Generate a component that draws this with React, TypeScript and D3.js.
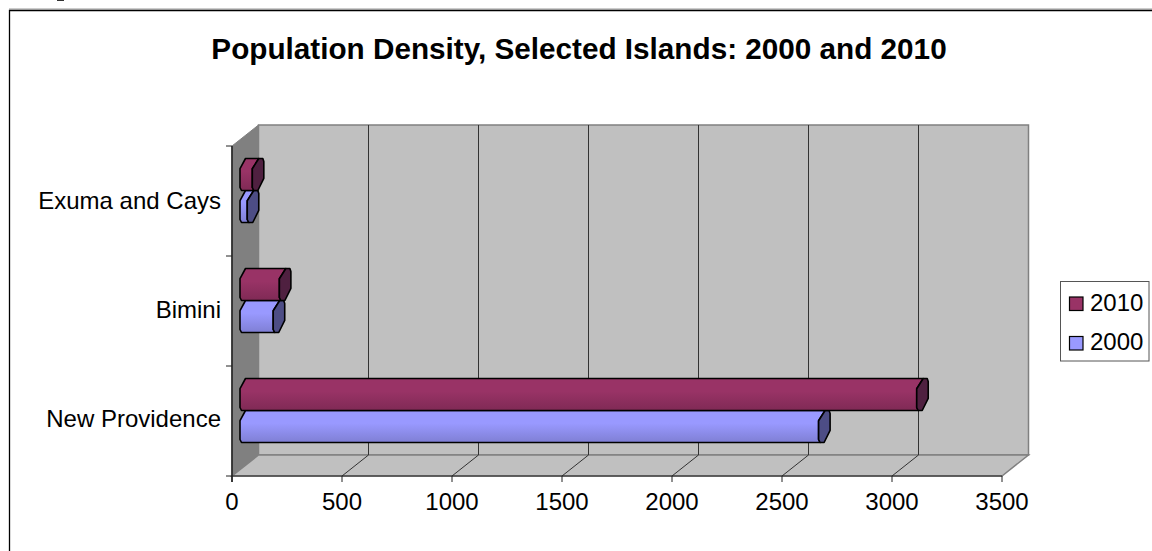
import React from "react";
import * as d3 from "d3";

const title = "Population Density, Selected Islands: 2000 and 2010";
const categories = ["New Providence", "Bimini", "Exuma and Cays"];
const values2000 = [2630, 151, 33];
const values2010 = [3076, 179, 56];
const ticks = [0, 500, 1000, 1500, 2000, 2500, 3000, 3500];
const seriesNames = ["2010", "2000"];

const W = 1152, H = 551;
const frontLeft = 232, frontRight = 1002, frontBottom = 476, frontTop = 146;
const dx = 26.5, dy = -21;
const FONT = "Liberation Sans, Arial, sans-serif";

const x = d3.scaleLinear().domain([0, 3500]).range([frontLeft, frontRight]);
const bandY = d3.scaleBand<number>().domain([0, 1, 2]).range([frontBottom, frontTop]);
const labelY = d3.scaleLinear().domain([0, 2]).range([427, 209]);
const COLORS: Record<string, { top: string; bottom: string; cap: string; stroke: string }> = {
  "2010": { top: "#993366", bottom: "#7f2a55", cap: "#4f2040", stroke: "#000" },
  "2000": { top: "#9999ff", bottom: "#7f7fd4", cap: "#4d4d85", stroke: "#000" },
};

function Bar({ v, y0, h, s }: { v: number; y0: number; h: number; s: string }) {
  const start = 8, depth = 11.5;
  const xl = x(0) + start;
  const xr = x(v) + start;
  const yt = y0, yb = y0 + h;
  const c = COLORS[s];
  const inset = h * 0.32;
  const hex = (cx: number) => [
    [cx + 6.5, yt], [cx + depth - 1, yt], [cx + depth, yt + 3], [cx + depth, yt + h * 0.62],
    [cx + 5.5, yb], [cx + 1.5, yb], [cx, yb - 3], [cx, yt + inset],
  ];
  const line = d3.line();
  const gid = `g${s}`;
  const body = `M${xl},${yt + inset} L${xl + 5.5},${yt} L${xr + 6.5},${yt} L${xr},${yt + inset} L${xr},${yb - 3} L${xr + 1.5},${yb} L${xl + 1.5},${yb} L${xl},${yb - 3} Z`;
  return (
    <g>
      <path d={body} fill={`url(#${gid})`} stroke="#000" strokeWidth={1.6} strokeLinejoin="round" />
      <path d={line(hex(xr) as [number, number][]) + "Z"} fill={c.cap} stroke="#000" strokeWidth={1.6} strokeLinejoin="round" />
    </g>
  );
}

export default function App() {
  const groupH = (frontBottom - frontTop) / 3;
  return (
    <svg width={W} height={H} style={{ position: "fixed", left: 0, top: 0, background: "#fff" }} fontFamily={FONT}>
      <defs>
        {seriesNames.map((s) => (
          <linearGradient key={s} id={`g${s}`} x1="0" y1="0" x2="0" y2="1">
            <stop offset="0" stopColor={COLORS[s].top} />
            <stop offset="0.4" stopColor={COLORS[s].top} />
            <stop offset="1" stopColor={COLORS[s].bottom} />
          </linearGradient>
        ))}
      </defs>
      <line x1={57} y1={0.5} x2={64} y2={0.5} stroke="#333" />
      <line x1={9} y1={9} x2={W} y2={9} stroke="#999" />
      <path d={`M${W},10.5 H9.5 V${H}`} fill="none" stroke="#000" strokeWidth={1.3} />
      <text x={579} y={59} fontSize={29.7} fontWeight="bold" textAnchor="middle" fill="#000">{title}</text>

      {/* walls */}
      <path d={`M${frontLeft},${frontTop} L${frontLeft + dx},${frontTop + dy} V${frontBottom + dy} L${frontLeft},${frontBottom} Z`} fill="#808080" stroke="#808080" />
      <rect x={frontLeft + dx} y={frontTop + dy} width={frontRight - frontLeft} height={frontBottom - frontTop} fill="#c0c0c0" stroke="#808080" strokeWidth={1.5} />
      <path d={`M${frontLeft},${frontBottom} L${frontLeft + dx},${frontBottom + dy} H${frontRight + dx} L${frontRight},${frontBottom} Z`} fill="#c0c0c0" stroke="#808080" strokeWidth={1.5} />

      {/* grid */}
      {ticks.slice(1, -1).map((t) => (
        <g key={t} stroke="#333" strokeWidth={1}>
          <line x1={x(t) + dx} x2={x(t) + dx} y1={frontTop + dy} y2={frontBottom + dy} />
          <line x1={x(t)} x2={x(t) + dx} y1={frontBottom} y2={frontBottom + dy} />
        </g>
      ))}

      {/* bars */}
      {categories.map((cat, i) => {
        const bt = bandY(i)!;
        const h = 32;
        const top = bt + groupH / 2 - h - 10.5;
        return (
          <g key={cat}>
            <Bar v={values2000[i]} y0={top + h} h={h} s="2000" />
            <Bar v={values2010[i]} y0={top} h={h} s="2010" />
          </g>
        );
      })}

      {/* axes */}
      <line x1={frontLeft} x2={frontLeft} y1={frontTop} y2={frontBottom + 6} stroke="#222" strokeWidth={1.6} />
      <line x1={frontLeft} x2={frontRight} y1={frontBottom} y2={frontBottom} stroke="#222" strokeWidth={1.2} />
      {[0, 1, 2, 3].map((i) => {
        const yy = frontBottom - i * groupH;
        return <line key={i} x1={frontLeft - 6} x2={frontLeft} y1={yy} y2={yy} stroke="#222" />;
      })}
      {ticks.map((t) => (
        <g key={t}>
          <line x1={x(t)} x2={x(t)} y1={frontBottom} y2={frontBottom + 6} stroke="#222" />
          <text x={x(t)} y={510} fontSize={24} textAnchor="middle" fill="#000">{t}</text>
        </g>
      ))}
      {categories.map((cat, i) => (
        <text key={cat} x={221} y={labelY(i)} fontSize={24} textAnchor="end" fill="#000">{cat}</text>
      ))}

      {/* legend */}
      <rect x={1060.5} y={281.5} width={88.5} height={79.5} fill="#fff" stroke="#555" />
      {seriesNames.map((s, i) => (
        <g key={s}>
          <rect x={1069.5} y={297 + i * 39.5} width={13.5} height={13.5} fill={COLORS[s].top} stroke="#000" strokeWidth={1.2} />
          <text x={1090} y={310.5 + i * 39.5} fontSize={24} fill="#000">{s}</text>
        </g>
      ))}
    </svg>
  );
}
